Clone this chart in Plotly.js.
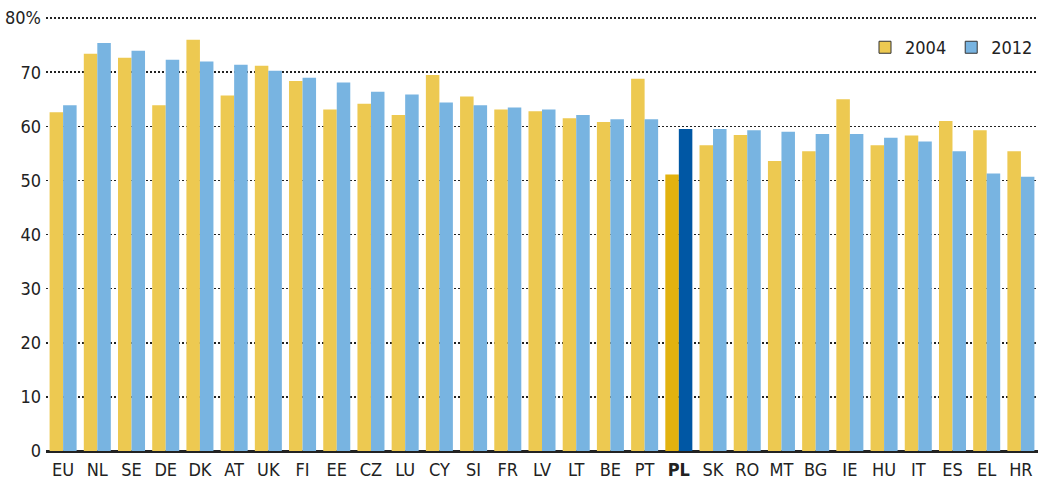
<!DOCTYPE html>
<html>
<head>
<meta charset="utf-8">
<script src="https://cdn.plot.ly/plotly-3.0.1.min.js"></script>
<style>html,body{margin:0;padding:0;background:#fff;}#chart{width:1038px;height:485px;}</style>
</head>
<body>
<div id="chart"></div>
<script>
const categories = ["EU","NL","SE","DE","DK","AT","UK","FI","EE","CZ","LU","CY","SI","FR","LV","LT","BE","PT","PL","SK","RO","MT","BG","IE","HU","IT","ES","EL","HR"];
const values2004 = [62.6,73.4,72.7,63.9,76.0,65.7,71.2,68.4,63.1,64.2,62.1,69.5,65.5,63.1,62.8,61.5,60.8,68.8,51.1,56.5,58.4,53.6,55.4,65.0,56.5,58.3,61.0,59.3,55.4];
const values2012 = [63.9,75.4,74.0,72.3,72.0,71.4,70.3,69.0,68.1,66.4,65.9,64.4,63.9,63.5,63.1,62.1,61.3,61.3,59.5,59.5,59.3,59.0,58.6,58.6,57.9,57.2,55.4,51.3,50.7];
const seriesNames = ["2004","2012"];
const highlight = "PL";
const yTickVals = [0,10,20,30,40,50,60,70,80];
const yTickText = ["0","10","20","30","40","50","60","70","80%"];

const yellow = "#EDC951", yellowHi = "#E2B20F";
const blue = "#78B4E1", blueHi = "#0057A4";
const fontFam = "'DejaVu Sans Condensed','Liberation Sans Narrow','Roboto',sans-serif";

const c2004 = categories.map(c => c === highlight ? yellowHi : yellow);
const c2012 = categories.map(c => c === highlight ? blueHi : blue);
const tickText = categories.map(c => c === highlight ? "<b>" + c + "</b>" : c);

const traces = [
  {type:"bar", x:categories, y:values2004, name:seriesNames[0], marker:{color:c2004, line:{width:0}}, showlegend:false, hoverinfo:"x+y"},
  {type:"bar", x:categories, y:values2012, name:seriesNames[1], marker:{color:c2012, line:{width:0}}, showlegend:false, hoverinfo:"x+y"},
  {type:"bar", x:[categories[0]], y:[0], name:seriesNames[0], xaxis:"x2", yaxis:"y2", marker:{color:yellow, line:{color:"#333", width:1}}, hoverinfo:"skip"},
  {type:"bar", x:[categories[0]], y:[0], name:seriesNames[1], xaxis:"x2", yaxis:"y2", marker:{color:blue, line:{color:"#333", width:1}}, hoverinfo:"skip"}
];

const layout = {
  width:1038, height:485,
  margin:{l:46, r:0, t:16, b:34},
  paper_bgcolor:"#fff", plot_bgcolor:"#fff",
  font:{family:fontFam, size:18, color:"#222"},
  barmode:"group", bargap:0.21, bargroupgap:0,
  showlegend:true,
  legend:{orientation:"h", x:1, xanchor:"right", y:0.97, yanchor:"top", font:{size:18, color:"#222"}, itemwidth:30, tracegroupgap:0, bgcolor:"rgba(0,0,0,0)"},
  xaxis:{type:"category", tickvals:categories, ticktext:tickText, showgrid:false, showline:false, ticks:"", ticklabelstandoff:6, tickfont:{size:18, color:"#222"}, fixedrange:true},
  yaxis:{range:[0,80.4], tickvals:yTickVals, ticktext:yTickText, showgrid:true, gridcolor:"#222", gridwidth:1.6, griddash:"1.6px,2.4px",
         zeroline:true, zerolinecolor:"#222", zerolinewidth:3, showline:false, ticks:"", ticklabelstandoff:4, tickfont:{size:18, color:"#222"}, fixedrange:true},
  xaxis2:{overlaying:"x", visible:false, type:"category"},
  yaxis2:{overlaying:"y", visible:false, range:[10,20]}
};

Plotly.newPlot("chart", traces, layout, {displayModeBar:false, staticPlot:true});
</script>
</body>
</html>
